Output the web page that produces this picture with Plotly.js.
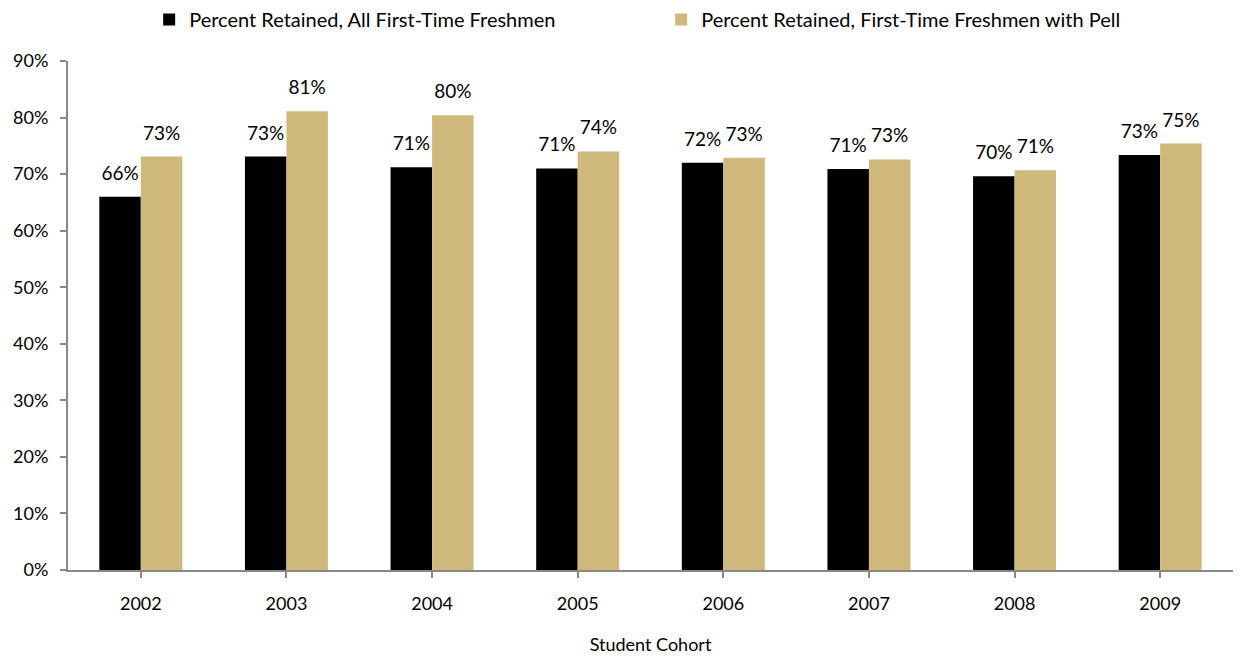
<!DOCTYPE html>
<html>
<head>
<meta charset="utf-8">
<script src="https://cdn.plot.ly/plotly-3.0.1.min.js"></script>
<style>html,body{margin:0;padding:0;background:#fff;}#chart{width:1243px;height:657px;}</style>
</head>
<body>
<div id="chart"></div>
<script>
const cohorts = ['2002','2003','2004','2005','2006','2007','2008','2009'];
const allFreshmen = [0.660, 0.731, 0.712, 0.710, 0.720, 0.709, 0.696, 0.734];
const pellFreshmen = [0.731, 0.811, 0.804, 0.740, 0.729, 0.726, 0.707, 0.754];
const seriesNames = ['Percent Retained, All First-Time Freshmen', 'Percent Retained, First-Time Freshmen with Pell'];
const seriesColors = ['#000000', '#CFB87C'];

const FONT = 'Lato, "Open Sans", sans-serif';
const seriesValues = [allFreshmen, pellFreshmen];
const data = [];
seriesValues.forEach((vals, i) => {
  data.push({
    type: 'bar', x: cohorts, y: vals, name: seriesNames[i],
    marker: {color: seriesColors[i]},
    offsetgroup: 'g' + i, alignmentgroup: 'a',
    hoverinfo: 'skip'
  });
});
seriesValues.forEach((vals, i) => {
  data.push({
    type: 'scatter', mode: 'markers+text', x: cohorts, y: vals,
    text: vals.map(v => Math.round(v * 100) + '%'),
    textposition: 'top center',
    textfont: {family: FONT, size: 19, color: '#000'},
    marker: {size: 18, color: 'rgba(0,0,0,0)'},
    offsetgroup: 'g' + i, alignmentgroup: 'a',
    showlegend: false, cliponaxis: false, hoverinfo: 'skip'
  });
});
const layout = {
  width: 1243, height: 657,
  margin: {l: 68, r: 10, t: 61, b: 87},
  paper_bgcolor: '#fff', plot_bgcolor: '#fff',
  font: {family: FONT, size: 18, color: '#000'},
  barmode: 'group',
  scattermode: 'group',
  bargap: 0.43,
  scattergap: 0.43,
  bargroupgap: 0,
  showlegend: true,
  legend: {
    orientation: 'h', xref: 'container', yref: 'container',
    x: 0.12, xanchor: 'left', y: 1, yanchor: 'top',
    entrywidth: 467, font: {family: FONT, size: 20, color: '#000'},
    itemwidth: 30, tracegroupgap: 0
  },
  xaxis: {
    showline: true, linecolor: '#888', linewidth: 2,
    ticks: 'outside', tickson: 'boundaries', ticklen: 6, tickcolor: '#888', tickwidth: 2,
    ticklabelstandoff: 10,
    tickfont: {family: FONT, size: 18, color: '#000'},
    title: {text: 'Student Cohort', font: {family: FONT, size: 18, color: '#000'}, standoff: 26},
    showgrid: false, zeroline: false
  },
  yaxis: {
    range: [0, 0.9], dtick: 0.1, tickformat: '.0%',
    showline: true, linecolor: '#888', linewidth: 2,
    ticks: 'outside', ticklen: 6, tickcolor: '#888', tickwidth: 2,
    ticklabelstandoff: 8,
    tickfont: {family: FONT, size: 18, color: '#000'},
    showgrid: false, zeroline: false
  }
};
Plotly.newPlot('chart', data, layout, {displayModeBar: false, staticPlot: true});
</script>
</body>
</html>
